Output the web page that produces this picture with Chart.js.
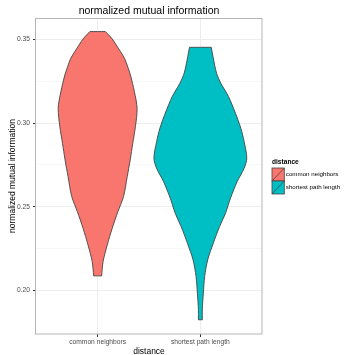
<!DOCTYPE html>
<html><head><meta charset="utf-8">
<script src="https://cdn.jsdelivr.net/npm/chart.js"></script>
<style>html,body{margin:0;padding:0;background:#fff}</style>
</head><body>
<canvas id="c" width="348" height="355" style="display:block;width:348px;height:355px"></canvas>
<script>
const chartTitle = 'normalized mutual information';
const xAxisTitle = 'distance';
const yAxisTitle = 'normalized mutual information';
const legendTitle = 'distance';
const categories = ['common neighbors', 'shortest path length'];
const seriesColors = ['#F8766D', '#00BFC4'];
const yMajorTicks = [0.20, 0.25, 0.30, 0.35];
const yMinorTicks = [0.225, 0.275, 0.325];

// violin outlines: y level and half width (in category units)
const cnY = [0.2088, 0.2173, 0.2273, 0.2372, 0.2471, 0.2561, 0.2680, 0.2780, 0.2879, 0.2979, 0.3088, 0.3187, 0.3287, 0.3335, 0.3387, 0.3466, 0.3506, 0.3546];
const cnHalfWidth = [0.039, 0.053, 0.094, 0.142, 0.197, 0.252, 0.288, 0.317, 0.342, 0.368, 0.384, 0.358, 0.319, 0.293, 0.261, 0.181, 0.137, 0.075];
const splY = [0.1826, 0.1886, 0.1985, 0.2084, 0.2183, 0.2283, 0.2382, 0.2462, 0.2551, 0.2650, 0.2730, 0.2790, 0.2889, 0.2969, 0.3058, 0.3158, 0.3237, 0.3297, 0.3396, 0.3452];
const splHalfWidth = [0.019, 0.019, 0.029, 0.042, 0.071, 0.126, 0.187, 0.245, 0.293, 0.358, 0.426, 0.452, 0.426, 0.394, 0.342, 0.274, 0.200, 0.158, 0.123, 0.106];

const FONT = "'Liberation Sans', Arial, Helvetica, sans-serif";

// closed outline: up the right side, down the left side; corner points doubled
// so the smoothed curve keeps the flat top and bottom edges straight
function violinOutline(center, ys, ws) {
  const n = ys.length;
  const pts = [];
  for (let i = 0; i < n; i++) {
    const p = {x: center + ws[i], y: ys[i]};
    pts.push(p);
    if (i === 0 || i === n - 1) pts.push({x: p.x, y: p.y});
  }
  for (let i = n - 1; i >= 0; i--) {
    const p = {x: center - ws[i], y: ys[i]};
    pts.push(p);
    if (i === 0 || i === n - 1) pts.push({x: p.x, y: p.y});
  }
  pts.push({x: pts[0].x, y: pts[0].y});
  return pts;
}
const isMajor = v => yMajorTicks.some(m => Math.abs(m - v) < 1e-9);

const violins = [[cnY, cnHalfWidth], [splY, splHalfWidth]];
const datasets = violins.map(([ys, ws], i) => ({
  label: categories[i],
  data: violinOutline(i + 1, ys, ws),
  showLine: true,
  fill: 'shape',
  backgroundColor: seriesColors[i],
  borderColor: '#444',
  borderWidth: 0.9,
  pointRadius: 0,
  tension: 0.3
}));

const panelDecor = {
  id: 'panelDecor',
  afterDraw(chart) {
    const {ctx, chartArea: a} = chart;
    ctx.save();
    ctx.strokeStyle = '#b5b5b5';
    ctx.lineWidth = 1;
    ctx.strokeRect(Math.round(a.left) - 0.5, Math.round(a.top) + 0.5, Math.round(a.right - a.left) + 0.5, Math.round(a.bottom - a.top) - 0.5);
    // plot title, centred over the panel as in ggplot
    ctx.fillStyle = '#000';
    ctx.font = '10.5px ' + FONT;
    ctx.textAlign = 'center';
    ctx.textBaseline = 'middle';
    ctx.fillText(chartTitle, (a.left + a.right) / 2, a.top - 7);
    ctx.restore();
  }
};

const ggLegend = {
  id: 'ggLegend',
  afterDraw(chart) {
    const {ctx, chartArea: a} = chart;
    const x0 = a.right + 10;
    const mid = (a.top + a.bottom) / 2;
    const keyW = 12.3, keyH = 13;
    const top = mid - 8;
    ctx.save();
    ctx.fillStyle = '#000';
    ctx.font = 'bold 6.6px ' + FONT;
    ctx.textBaseline = 'middle';
    ctx.textAlign = 'left';
    ctx.fillText(legendTitle, x0, top - 5.5);
    categories.forEach((c, i) => {
      const y = top + i * keyH;
      ctx.fillStyle = seriesColors[i];
      ctx.fillRect(x0, y, keyW, keyH);
      ctx.strokeStyle = '#444';
      ctx.lineWidth = 0.8;
      ctx.strokeRect(x0, y, keyW, keyH);
      ctx.beginPath();
      ctx.moveTo(x0, y + keyH);
      ctx.lineTo(x0 + keyW, y);
      ctx.stroke();
      ctx.fillStyle = '#000';
      ctx.font = '6.2px ' + FONT;
      ctx.fillText(c, x0 + keyW + 1.5, y + keyH / 2);
    });
    ctx.restore();
  }
};

new Chart(document.getElementById('c'), {
  type: 'scatter',
  data: {datasets},
  plugins: [panelDecor, ggLegend],
  options: {
    responsive: false,
    devicePixelRatio: 1,
    animation: false,
    layout: {padding: {left: 0, right: 86, top: 18, bottom: 0}},
    plugins: {
      legend: {display: false},
      tooltip: {enabled: false},
      title: {display: false}
    },
    scales: {
      x: {
        type: 'linear', min: 0.4, max: 2.6,
        afterBuildTicks: s => { s.ticks = categories.map((c, i) => ({value: i + 1})); },
        afterFit: s => { s.height = 21; },
        ticks: {
          callback: (v, i) => categories[i],
          font: {family: FONT, size: 6.7, lineHeight: 1},
          color: '#4d4d4d', padding: 2.25, maxRotation: 0, autoSkip: false
        },
        grid: {color: '#ededed', tickColor: '#333', tickLength: 3, lineWidth: 1},
        border: {display: false},
        title: {
          display: true, text: xAxisTitle, color: '#000',
          font: {family: FONT, size: 8.5, lineHeight: 0.8},
          padding: {top: 0, bottom: 0}
        }
      },
      y: {
        type: 'linear', min: 0.1741, max: 0.3627,
        afterBuildTicks: s => { s.ticks = yMajorTicks.concat(yMinorTicks).sort((a, b) => a - b).map(v => ({value: v})); },
        afterFit: s => { s.width = 36; },
        ticks: {
          callback: (v, i, t) => isMajor(t[i].value) ? t[i].value.toFixed(2) : '',
          font: {family: FONT, size: 6.7, lineHeight: 1},
          color: '#4d4d4d', padding: 3
        },
        grid: {
          color: c => (c.tick && isMajor(c.tick.value)) ? '#ededed' : '#f7f7f7',
          tickColor: c => (c.tick && isMajor(c.tick.value)) ? '#333' : 'rgba(0,0,0,0)',
          tickLength: 3, lineWidth: 1
        },
        border: {display: false},
        title: {
          display: true, text: yAxisTitle, color: '#000',
          font: {family: FONT, size: 8.5, lineHeight: 1.2},
          padding: {top: 7.6, bottom: 0}
        }
      }
    }
  }
});
</script>
</body></html>
